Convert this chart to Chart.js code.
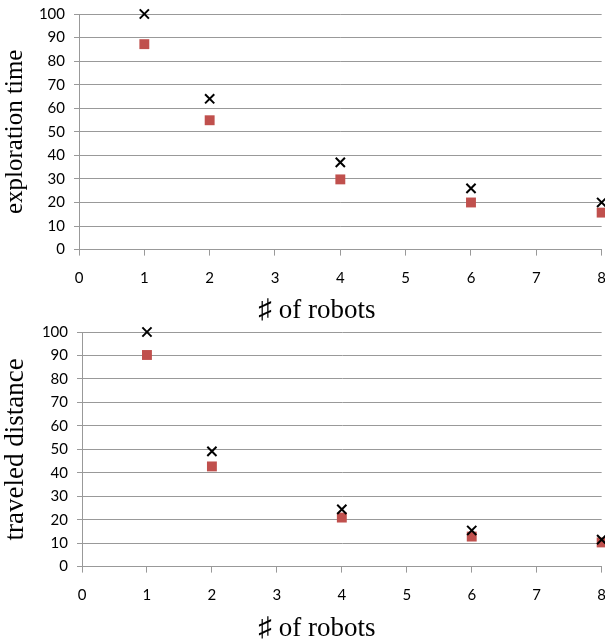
<!DOCTYPE html>
<html><head><meta charset="utf-8">
<script src="https://cdn.jsdelivr.net/npm/chart.js@4"></script>
<style>
html,body{margin:0;padding:0;background:#fff;overflow:hidden;}
.box{position:absolute;left:0;width:620px;}
</style></head>
<body>
<div class="box" style="top:-4px;height:331px"><canvas id="c1"></canvas></div>
<div class="box" style="top:314px;height:331px"><canvas id="c2"></canvas></div>
<script>
const robots = [1, 2, 4, 6, 8];
const xTicks = [0, 1, 2, 3, 4, 5, 6, 7, 8];
const yTicks = [0, 10, 20, 30, 40, 50, 60, 70, 80, 90, 100];
const explorationBlack = [100, 64, 37, 26, 20];
const explorationRed = [87.2, 54.9, 29.8, 20, 15.7];
const distanceBlack = [100, 49.1, 24.4, 15.4, 11.5];
const distanceRed = [90.2, 42.7, 20.9, 12.8, 10.3];
const xTitle = '\u266F of robots';

function pts(xs, ys){ return xs.map((x,i)=>({x:x,y:ys[i]})); }

function makeChart(id, yTitle, black, red, yW, xH, yTitleSize){
  return new Chart(document.getElementById(id), {
    type: 'scatter',
    data: { datasets: [
      { data: pts(robots, black), pointStyle: 'crossRot', pointRadius: 6.5, pointHoverRadius: 6.5,
        borderColor: '#000', backgroundColor: '#000', pointBorderWidth: 2, clip: false },
      { data: pts(robots, red), pointStyle: 'rect', pointRadius: 7, pointHoverRadius: 7,
        borderColor: '#C0504D', backgroundColor: '#C0504D', pointBorderWidth: 0, clip: false }
    ]},
    options: {
      responsive: true, maintainAspectRatio: false, animation: false,
      layout: { padding: { top: 0, right: 0, left: 14, bottom: 0 } },
      plugins: {
        legend: { display: false }, tooltip: { enabled: false },
        title: { display: true, position: 'bottom', text: xTitle, color: '#000',
                 font: { family: 'Liberation Serif', size: 27, weight: 'normal' }, padding: 0 }
      },
      scales: {
        x: {
          type: 'linear', min: 0, max: 8,
          afterBuildTicks: s => { s.ticks = xTicks.map(v=>({value:v})); },
          afterFit: s => { s.height = xH; },
          grid: { display: true, drawOnChartArea: false, drawTicks: true, tickLength: 6, color: '#999' },
          border: { display: true, color: '#999', width: 1 },
          ticks: { color: '#000', font: { family: 'Lato', size: 15 }, padding: 14 }
        },
        y: {
          min: 0, max: 100,
          afterBuildTicks: s => { s.ticks = yTicks.map(v=>({value:v})); },
          afterFit: s => { s.width = yW; },
          grid: { color: '#999', tickLength: 5, lineWidth: 1 },
          border: { display: true, color: '#999', width: 1 },
          ticks: { color: '#000', font: { family: 'Lato', size: 15 }, padding: 9 },
          title: { display: true, text: yTitle, color: '#000',
                   font: { family: 'Liberation Serif', size: yTitleSize }, padding: { top: -14, bottom: 2 } }
        }
      }
    }
  });
}
makeChart('c1', 'exploration time', explorationBlack, explorationRed, 65, 45, 25);
makeChart('c2', 'traveled distance', distanceBlack, distanceRed, 68, 46, 27);
</script>
</body></html>
